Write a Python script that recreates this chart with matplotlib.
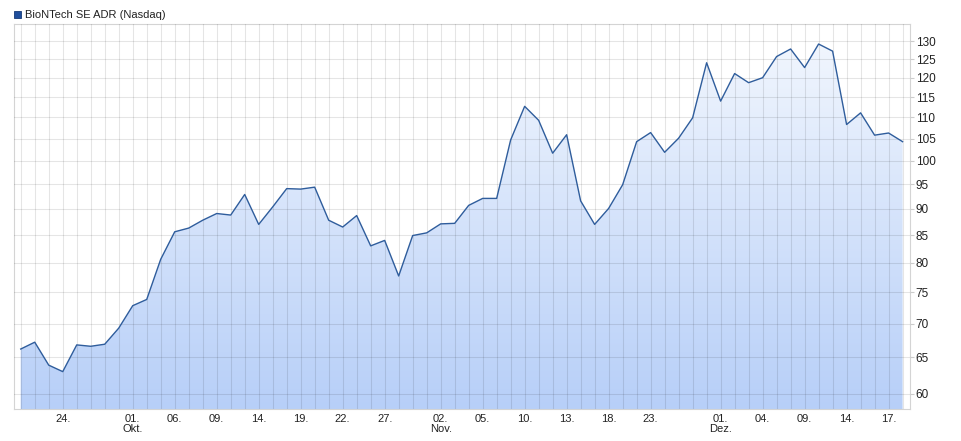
import numpy as np
import pandas as pd
import matplotlib
matplotlib.use("Agg")
import matplotlib.pyplot as plt
from matplotlib.colors import LinearSegmentedColormap
from matplotlib.ticker import FixedLocator, FixedFormatter, NullLocator

# trading days (Nasdaq, Thanksgiving closed)
dates = pd.bdate_range("2020-09-21", "2020-12-18")
dates = dates[dates != pd.Timestamp("2020-11-26")]

prices = [
    66.2, 67.2, 63.9, 63.0, 66.8, 66.6, 66.9, 69.3, 72.8, 73.8,
    80.6, 85.6, 86.3, 87.8, 89.1, 88.8, 92.9, 87.0, 90.4, 94.1,
    94.0, 94.4, 87.8, 86.5, 88.7, 83.0, 84.0, 77.7, 84.9, 85.4,
    87.1, 87.2, 90.7, 92.1, 92.1, 104.7, 112.7, 109.3, 101.7, 105.9,
    91.6, 87.0, 90.1, 94.9, 104.3, 106.4, 101.9, 105.1, 109.9, 124.0,
    114.0, 121.1, 118.7, 120.0, 125.7, 127.8, 122.7, 129.2, 127.2, 108.3,
    111.1, 105.8, 106.3, 104.3,
]

tick_dates = [
    "2020-09-24", "2020-10-01", "2020-10-06", "2020-10-09", "2020-10-14",
    "2020-10-19", "2020-10-22", "2020-10-27", "2020-11-02", "2020-11-05",
    "2020-11-10", "2020-11-13", "2020-11-18", "2020-11-23", "2020-12-01",
    "2020-12-04", "2020-12-09", "2020-12-14", "2020-12-17",
]
month_names = {10: "Okt.", 11: "Nov.", 12: "Dez."}
y_ticks = [60, 65, 70, 75, 80, 85, 90, 95, 100, 105, 110, 115, 120, 125, 130]

series_name = "BioNTech SE ADR (Nasdaq)"

plt.rcParams["font.family"] = ["Liberation Sans", "DejaVu Sans"]

x = np.arange(len(prices))
date_index = {d.strftime("%Y-%m-%d"): i for i, d in enumerate(dates)}
tick_pos = [date_index[d] for d in tick_dates]

# first labelled day of a new month gets the month name underneath
tick_labels = []
prev_month = None
for d in tick_dates:
    ts = pd.Timestamp(d)
    label = ts.strftime("%d.")
    if prev_month is not None and ts.month != prev_month:
        label += "\n" + month_names[ts.month]
    prev_month = ts.month
    tick_labels.append(label)

fig = plt.figure(figsize=(9.61, 4.41), dpi=100)
ax = fig.add_axes([0.0143, 0.0718, 0.9322, 0.8738])
ax.set_yscale("log")

ymin, ymax = 58.0, 135.0
ax.set_xlim(-0.5, len(prices) - 0.5)
ax.set_ylim(ymin, ymax)

# gradient area under the line
line_color = "#2f5d9c"
poly = ax.fill_between(x, prices, ymin, color="none", linewidth=0)
cmap = LinearSegmentedColormap.from_list("fill", ["#b7cff8", "#f4f8fe"])
grad = np.linspace(0, 1, 256).reshape(-1, 1)
im = ax.imshow(grad, extent=[0, 1, 0, 1], transform=ax.transAxes,
               origin="lower", aspect="auto", cmap=cmap, zorder=1)
im.set_clip_path(poly.get_paths()[0], transform=ax.transData)
ax.plot(x, prices, color=line_color, linewidth=1.0, zorder=3)

ax.set_xlim(-0.5, len(prices) - 0.5)
ax.set_ylim(ymin, ymax)

# grid
ax.set_xticks(x, minor=True)
ax.set_xticks(tick_pos)
ax.set_xticklabels(tick_labels, fontsize=8, color="#222222", linespacing=1.1)
ax.yaxis.set_major_locator(FixedLocator(y_ticks))
ax.yaxis.set_major_formatter(FixedFormatter([str(v) for v in y_ticks]))
ax.yaxis.set_minor_locator(NullLocator())
ax.grid(True, which="both", color="#000000", alpha=0.10, linewidth=0.8, zorder=2)
ax.set_axisbelow(False)

ax.yaxis.tick_right()
ax.tick_params(axis="y", which="major", labelsize=8.5, labelcolor="#222222",
               length=3, color="#cccccc", pad=1.5)
ax.tick_params(axis="x", which="both", length=0, pad=3)

for spine in ax.spines.values():
    spine.set_color("#d4d4d4")
    spine.set_linewidth(0.8)

# legend
fig.patches.append(plt.Rectangle((14 / 961, 1 - 18 / 441), 7 / 961, 7 / 441,
                                 transform=fig.transFigure, facecolor="#1f4e9c",
                                 edgecolor="#163a78", linewidth=0.6))
fig.text(25 / 961, 1 - 14.5 / 441, series_name, fontsize=8, color="#222222",
         va="center", ha="left")

fig.savefig("out.png", dpi=100)
plt.close(fig)
